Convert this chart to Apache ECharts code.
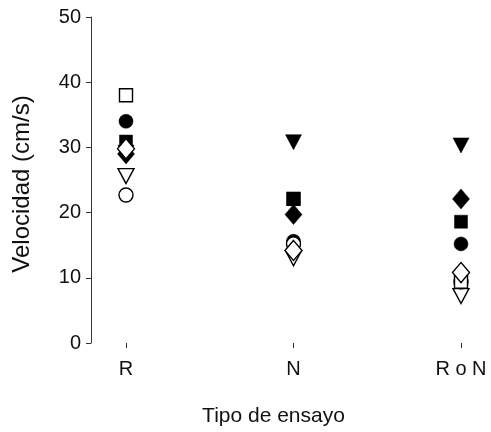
<!DOCTYPE html>
<html>
<head>
<meta charset="utf-8">
<script src="https://cdn.jsdelivr.net/npm/echarts@6/dist/echarts.min.js"></script>
<style>
  html, body { margin: 0; padding: 0; background: #fff; }
  #chart { width: 491px; height: 432px; }
</style>
</head>
<body>
<div id="chart"></div>
<script>
// Test types along the x axis
const categories = ['R', 'N', 'R o N'];

// Speed (cm/s) per subject, one value per test type
const filledCircle   = [34.0, 15.6, 15.2];
const openTriangle   = [25.6, 13.0, 7.2];
const openCircle     = [22.7, 15.2, 9.4];
const openSquare     = [38.0, 22.1, 9.4];
const filledSquare   = [30.9, 22.1, 18.6];
const filledTriangle = [29.2, 30.8, 30.3];
const filledDiamond  = [29.0, 19.7, 22.1];
const openDiamond    = [29.8, 14.2, 10.8];

const yTicks = { min: 0, max: 50, interval: 10 };

const FONT = 'Liberation Sans';

function pts(values) {
  return values.map((v, i) => [categories[i], v]);
}

function makeSeries(name, values, symbol, size, filled, rotate) {
  return {
    name: name,
    type: 'scatter',
    data: pts(values),
    symbol: symbol,
    symbolSize: size,
    symbolRotate: rotate || 0,
    itemStyle: filled
      ? { color: '#000', borderColor: '#000', borderWidth: 0.5, opacity: 1 }
      : { color: '#fff', borderColor: '#000', borderWidth: 1.4, opacity: 1 },
    emphasis: { disabled: true },
    silent: true
  };
}

const series = [
  makeSeries('filledCircle',   filledCircle,   'circle',   14, true),
  makeSeries('openTriangle',   openTriangle,   'triangle', [16, 15], false, 180),
  makeSeries('openCircle',     openCircle,     'circle',   14, false),
  makeSeries('openSquare',     openSquare,     'rect',     13, false),
  makeSeries('filledSquare',   filledSquare,   'rect',     13, true),
  makeSeries('filledTriangle', filledTriangle, 'triangle', [16, 15], true, 180),
  makeSeries('filledDiamond',  filledDiamond,  'diamond',  [17, 20], true),
  makeSeries('openDiamond',    openDiamond,    'diamond',  [17, 20], false)
];

const chart = echarts.init(document.getElementById('chart'), null, { renderer: 'canvas' });
chart.setOption({
  animation: false,
  backgroundColor: '#fff',
  grid: { left: 126, right: 30, top: 17, bottom: 88, containLabel: false },
  xAxis: {
    type: 'category',
    data: categories,
    boundaryGap: false,
    offset: 8,
    axisLine: { show: false },
    axisTick: { show: true, length: 5, lineStyle: { color: '#333', width: 1 } },
    axisLabel: { margin: 8, color: '#111', fontFamily: FONT, fontSize: 20 },
    splitLine: { show: false },
    name: 'Tipo de ensayo',
    nameLocation: 'middle',
    nameGap: 55,
    nameTextStyle: { color: '#111', fontFamily: FONT, fontSize: 21, padding: [0, 40, 0, 0] }
  },
  yAxis: {
    type: 'value',
    min: yTicks.min,
    max: yTicks.max,
    interval: yTicks.interval,
    offset: 35,
    axisLine: { show: true, lineStyle: { color: '#333', width: 1 } },
    axisTick: { show: true, length: 5, lineStyle: { color: '#333', width: 1 } },
    axisLabel: { margin: 10, color: '#111', fontFamily: FONT, fontSize: 20 },
    splitLine: { show: false },
    name: 'Velocidad (cm/s)',
    nameLocation: 'middle',
    nameGap: 57,
    nameTextStyle: { color: '#111', fontFamily: FONT, fontSize: 24, padding: [0, 8, 0, 0] }
  },
  series: series
});
</script>
</body>
</html>
